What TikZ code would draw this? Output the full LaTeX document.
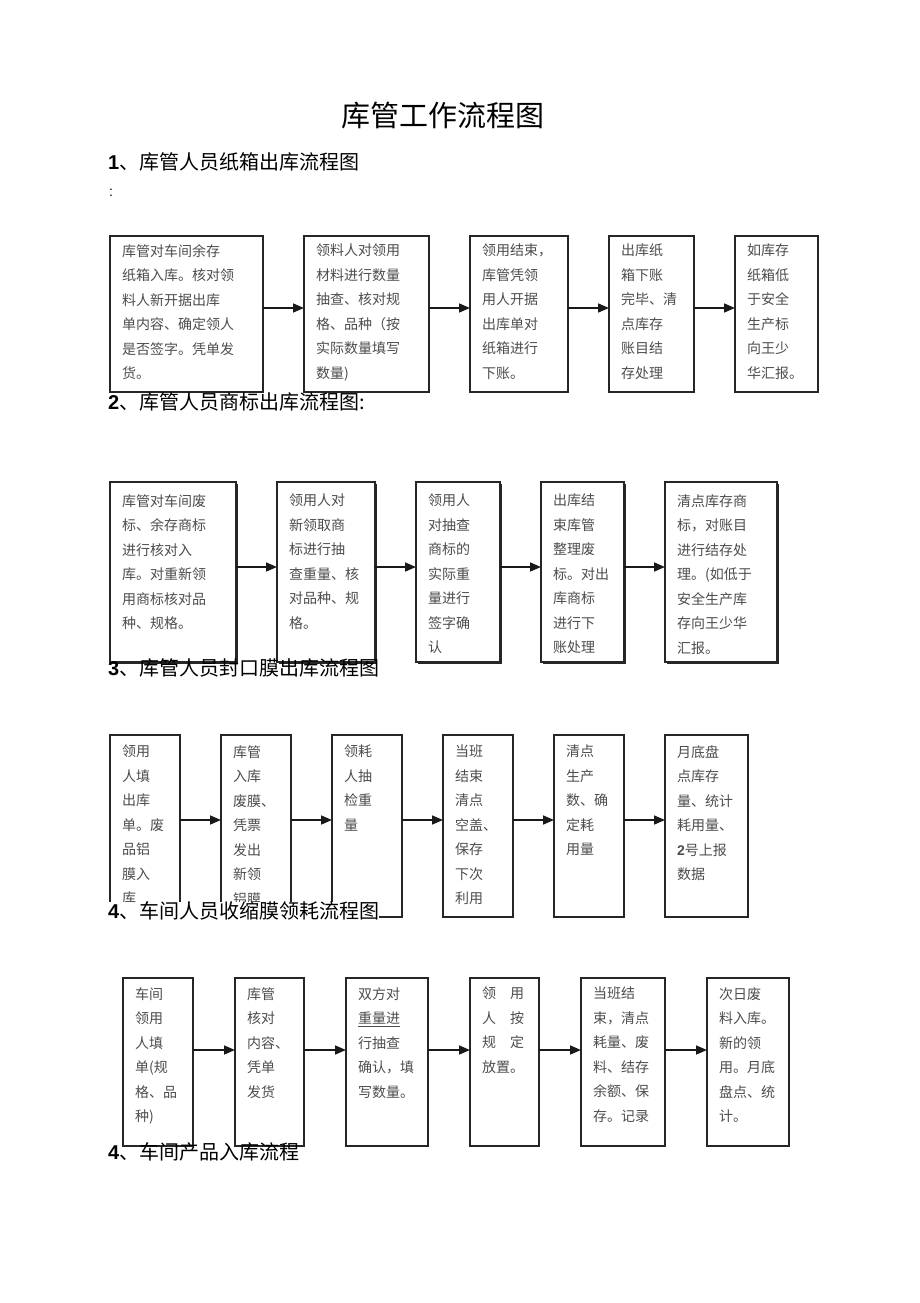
\documentclass[tikz,border=0pt]{standalone}
\usepackage{fontspec}
\newfontfamily\cjk{Noto Sans CJK SC}
\newfontfamily\arial{Liberation Sans}
\usetikzlibrary{arrows.meta, positioning, shadows}

\newcommand{\headnum}[1]{{\arial\bfseries #1}}

\tikzset{
    flowbox/.style={draw=black!85, line width=1.4pt, inner sep=0pt, outer sep=0pt, anchor=north west},
    shadowbox/.style={flowbox, fill=white, general shadow={fill=black!85, shadow xshift=1.6pt, shadow yshift=-1.6pt}},
    boxtext/.style={anchor=north west, inner xsep=12pt, inner ysep=#1, align=left, text=black!70,
        font=\cjk\fontsize{14pt}{24.5pt}\selectfont},
    boxtext/.default=8pt,
    heading/.style={anchor=west, inner sep=0pt, font=\cjk\fontsize{20pt}{24pt}\selectfont},
    flowarrow/.style={draw=black!90, line width=1.6pt, -{Triangle[length=11pt,width=9pt]}}
}

\begin{document}
\begin{tikzpicture}[x=1pt, y=-1pt, node distance=41pt]
    \useasboundingbox (0,0) rectangle (920,1303);

    \node[font=\cjk\fontsize{29pt}{34pt}\selectfont] (title) at (443,115) {库管工作流程图};

    % 1
    \node[heading] (h1) at (108,162) {\headnum{1}、库管人员纸箱出库流程图};
    \node[anchor=west, inner sep=0pt, font=\arial\fontsize{14pt}{16pt}\selectfont] (colon) at (109,193) {:};

    \node[flowbox, minimum width=153pt, minimum height=156pt,
        label={[boxtext]north west:{库管对车间余存\\纸箱入库。核对领\\料人新开据出库\\单内容、确定领人\\是否签字。凭单发\\货。}}] (a1) at (110,236) {};
    \node[flowbox, minimum width=125pt, minimum height=156pt, right=of a1,
        label={[boxtext]north west:{领料人对领用\\材料进行数量\\抽查、核对规\\格、品种（按\\实际数量填写\\数量)}}] (a2) {};
    \node[flowbox, minimum width=98pt, minimum height=156pt, right=of a2,
        label={[boxtext]north west:{领用结束，\\库管凭领\\用人开据\\出库单对\\纸箱进行\\下账。}}] (a3) {};
    \node[flowbox, minimum width=85pt, minimum height=156pt, right=of a3,
        label={[boxtext]north west:{出库纸\\箱下账\\完毕、清\\点库存\\账目结\\存处理}}] (a4) {};
    \node[flowbox, minimum width=83pt, minimum height=156pt, right=of a4,
        label={[boxtext]north west:{如库存\\纸箱低\\于安全\\生产标\\向王少\\华汇报。}}] (a5) {};

    % 2
    \node[heading] (h2) at (108,402) {\headnum{2}、库管人员商标出库流程图:};

    \node[shadowbox, minimum width=126pt, minimum height=180pt,
        label={[boxtext=12pt]north west:{库管对车间废\\标、余存商标\\进行核对入\\库。对重新领\\用商标核对品\\种、规格。}}] (b1) at (110,482) {};
    \node[shadowbox, minimum width=98pt, minimum height=180pt, right=of b1,
        label={[boxtext=12pt]north west:{领用人对\\新领取商\\标进行抽\\查重量、核\\对品种、规\\格。}}] (b2) {};
    \node[shadowbox, minimum width=84pt, minimum height=180pt, right=of b2,
        label={[boxtext=12pt]north west:{领用人\\对抽查\\商标的\\实际重\\量进行\\签字确\\认}}] (b3) {};
    \node[shadowbox, minimum width=83pt, minimum height=180pt, right=of b3,
        label={[boxtext=12pt]north west:{出库结\\束库管\\整理废\\标。对出\\库商标\\进行下\\账处理}}] (b4) {};
    \node[shadowbox, minimum width=112pt, minimum height=180pt, right=of b4,
        label={[boxtext=12pt]north west:{清点库存商\\标，对账目\\进行结存处\\理。(如低于\\安全生产库\\存向王少华\\汇报。}}] (b5) {};

    % 3
    \node[heading] (h3) at (108,668) {\headnum{3}、库管人员封口膜出库流程图};

    \node[flowbox, minimum width=70pt, minimum height=182pt,
        label={[boxtext=10pt]north west:{领用\\人填\\出库\\单。废\\品铝\\膜入\\库}}] (c1) at (110,735) {};
    \node[flowbox, minimum width=70pt, minimum height=182pt, right=of c1,
        label={[boxtext=10pt]north west:{库管\\入库\\废膜、\\凭票\\发出\\新领\\铝膜}}] (c2) {};
    \node[flowbox, minimum width=70pt, minimum height=182pt, right=of c2,
        label={[boxtext=10pt]north west:{领耗\\人抽\\检重\\量}}] (c3) {};
    \node[flowbox, minimum width=70pt, minimum height=182pt, right=of c3,
        label={[boxtext=10pt]north west:{当班\\结束\\清点\\空盖、\\保存\\下次\\利用}}] (c4) {};
    \node[flowbox, minimum width=70pt, minimum height=182pt, right=of c4,
        label={[boxtext=10pt]north west:{清点\\生产\\数、确\\定耗\\用量}}] (c5) {};
    \node[flowbox, minimum width=83pt, minimum height=182pt, right=of c5,
        label={[boxtext=10pt]north west:{月底盘\\点库存\\量、统计\\耗用量、\\{\arial\bfseries 2}号上报\\数据}}] (c6) {};

    % 4
    \node[heading, fill=white, text depth=0pt] (h4) at (108,910) {\headnum{4}、车间人员收缩膜领耗流程图};

    \begin{scope}[node distance=42pt]
    \node[flowbox, minimum width=70pt, minimum height=168pt,
        label={[boxtext=9pt]north west:{车间\\领用\\人填\\单(规\\格、品\\种)}}] (d1) at (123,978) {};
    \node[flowbox, minimum width=69pt, minimum height=168pt, right=of d1,
        label={[boxtext=9pt]north west:{库管\\核对\\内容、\\凭单\\发货}}] (d2) {};
    \node[flowbox, minimum width=82pt, minimum height=168pt, right=of d2,
        label={[boxtext=9pt]north west:{双方对\\\underline{重量进}\\行抽查\\确认，填\\写数量。}}] (d3) {};
    \node[flowbox, minimum width=69pt, minimum height=168pt, right=of d3,
        label={[boxtext=9pt]north west:{领\quad 用\\人\quad 按\\规\quad 定\\放置。}}] (d4) {};
    \node[flowbox, minimum width=84pt, minimum height=168pt, right=of d4,
        label={[boxtext=9pt]north west:{当班结\\束，清点\\耗量、废\\料、结存\\余额、保\\存。记录}}] (d5) {};
    \node[flowbox, minimum width=82pt, minimum height=168pt, right=of d5,
        label={[boxtext=9pt]north west:{次日废\\料入库。\\新的领\\用。月底\\盘点、统\\计。}}] (d6) {};
    \end{scope}

    \node[heading] (h5) at (108,1152) {\headnum{4}、车间产品入库流程};

    % arrows
    \foreach \a/\b in {a1/a2, a2/a3, a3/a4, a4/a5}
        \draw[flowarrow] ([yshift=6pt]\a.east) -- ([yshift=6pt]\b.west);
    \foreach \a/\b in {b1/b2, b2/b3, b3/b4, b4/b5}
        \draw[flowarrow] ([yshift=5pt]\a.east) -- ([yshift=5pt]\b.west);
    \foreach \a/\b in {c1/c2, c2/c3, c3/c4, c4/c5, c5/c6}
        \draw[flowarrow] ([yshift=6pt]\a.east) -- ([yshift=6pt]\b.west);
    \foreach \a/\b in {d1/d2, d2/d3, d3/d4, d4/d5, d5/d6}
        \draw[flowarrow] ([yshift=12pt]\a.east) -- ([yshift=12pt]\b.west);
\end{tikzpicture}
\end{document}
